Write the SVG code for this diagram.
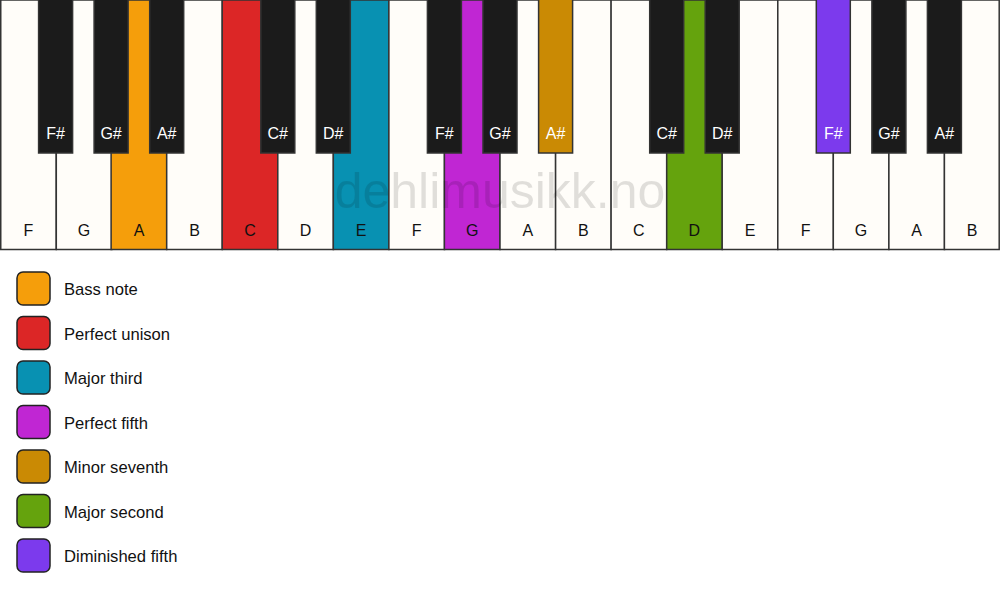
<svg xmlns="http://www.w3.org/2000/svg" width="1000" height="594" viewBox="0 0 1000 594">
<style>
.w{fill:#fffdf9;stroke:#333;stroke-width:1.5}
.b{fill:#1b1b1b;stroke:#333;stroke-width:1.5}
.wl{font-family:"Liberation Sans",Arial,sans-serif;font-size:16px;fill:#111;text-anchor:middle}
.bl{font-family:"Liberation Sans",Arial,sans-serif;font-size:16px;fill:#fff;text-anchor:middle}
.lg{stroke:#222;stroke-width:1.5}
.lt{font-family:"Liberation Sans",Arial,sans-serif;font-size:16.6px;fill:#111}
.wm{font-family:"Liberation Sans",Arial,sans-serif;font-size:50px;fill:#000;fill-opacity:0.12;text-anchor:middle}
</style>
<rect width="1000" height="594" fill="#fff"/>
<g id="white-keys">
<g id="wk-F1"><rect class="w" x="0.75" y="0" width="55.5" height="249.5"/><text class="wl" x="28.5" y="236">F</text></g>
<g id="wk-G1"><rect class="w" x="56.3" y="0" width="55.5" height="249.5"/><text class="wl" x="84" y="236">G</text></g>
<g id="wk-A1"><rect class="w" x="111.1" y="0" width="55.6" height="249.5" style="fill:#F59E0B"/><text class="wl" x="139" y="236">A</text></g>
<g id="wk-B1"><rect class="w" x="166.7" y="0" width="55.6" height="249.5"/><text class="wl" x="194.5" y="236">B</text></g>
<g id="wk-C1"><rect class="w" x="222.2" y="0" width="55.6" height="249.5" style="fill:#DC2626"/><text class="wl" x="250" y="236">C</text></g>
<g id="wk-D1"><rect class="w" x="277.8" y="0" width="55.6" height="249.5"/><text class="wl" x="305.5" y="236">D</text></g>
<g id="wk-E1"><rect class="w" x="333.3" y="0" width="55.6" height="249.5" style="fill:#0891B2"/><text class="wl" x="361" y="236">E</text></g>
<g id="wk-F2"><rect class="w" x="388.9" y="0" width="55.6" height="249.5"/><text class="wl" x="416.7" y="236">F</text></g>
<g id="wk-G2"><rect class="w" x="444.4" y="0" width="55.6" height="249.5" style="fill:#C026D3"/><text class="wl" x="472.2" y="236">G</text></g>
<g id="wk-A2"><rect class="w" x="500" y="0" width="55.6" height="249.5"/><text class="wl" x="527.8" y="236">A</text></g>
<g id="wk-B2"><rect class="w" x="555.6" y="0" width="55.6" height="249.5"/><text class="wl" x="583.3" y="236">B</text></g>
<g id="wk-C2"><rect class="w" x="611.1" y="0" width="55.6" height="249.5"/><text class="wl" x="638.9" y="236">C</text></g>
<g id="wk-D2"><rect class="w" x="666.7" y="0" width="55.6" height="249.5" style="fill:#65A30D"/><text class="wl" x="694.4" y="236">D</text></g>
<g id="wk-E2"><rect class="w" x="722.2" y="0" width="55.6" height="249.5"/><text class="wl" x="750" y="236">E</text></g>
<g id="wk-F3"><rect class="w" x="777.8" y="0" width="55.6" height="249.5"/><text class="wl" x="805.6" y="236">F</text></g>
<g id="wk-G3"><rect class="w" x="833.3" y="0" width="55.6" height="249.5"/><text class="wl" x="861.1" y="236">G</text></g>
<g id="wk-A3"><rect class="w" x="888.9" y="0" width="55.6" height="249.5"/><text class="wl" x="916.7" y="236">A</text></g>
<g id="wk-B3"><rect class="w" x="944.4" y="0" width="54.8" height="249.5"/><text class="wl" x="972.2" y="236">B</text></g>
</g>
<text id="watermark" class="wm" x="500" y="208">dehlimusikk.no</text>
<g id="black-keys">
<g id="bk-Fs1"><rect class="b" x="38.6" y="-1" width="34" height="154"/><text class="bl" x="55.6" y="139">F#</text></g>
<g id="bk-Gs1"><rect class="b" x="94.1" y="-1" width="34" height="154"/><text class="bl" x="111.1" y="139">G#</text></g>
<g id="bk-As1"><rect class="b" x="149.7" y="-1" width="34" height="154"/><text class="bl" x="166.7" y="139">A#</text></g>
<g id="bk-Cs1"><rect class="b" x="260.8" y="-1" width="34" height="154"/><text class="bl" x="277.8" y="139">C#</text></g>
<g id="bk-Ds1"><rect class="b" x="316.3" y="-1" width="34" height="154"/><text class="bl" x="333.3" y="139">D#</text></g>
<g id="bk-Fs2"><rect class="b" x="427.4" y="-1" width="34" height="154"/><text class="bl" x="444.4" y="139">F#</text></g>
<g id="bk-Gs2"><rect class="b" x="483" y="-1" width="34" height="154"/><text class="bl" x="500" y="139">G#</text></g>
<g id="bk-As2"><rect class="b" x="538.6" y="-1" width="34" height="154" style="fill:#CA8A04"/><text class="bl" x="555.6" y="139">A#</text></g>
<g id="bk-Cs2"><rect class="b" x="649.7" y="-1" width="34" height="154"/><text class="bl" x="666.7" y="139">C#</text></g>
<g id="bk-Ds2"><rect class="b" x="705.2" y="-1" width="34" height="154"/><text class="bl" x="722.2" y="139">D#</text></g>
<g id="bk-Fs3"><rect class="b" x="816.3" y="-1" width="34" height="154" style="fill:#7C3AED"/><text class="bl" x="833.3" y="139">F#</text></g>
<g id="bk-Gs3"><rect class="b" x="871.9" y="-1" width="34" height="154"/><text class="bl" x="888.9" y="139">G#</text></g>
<g id="bk-As3"><rect class="b" x="927.4" y="-1" width="34" height="154"/><text class="bl" x="944.4" y="139">A#</text></g>
</g>
<g id="legend">
<g id="lg-bass"><rect class="lg" x="17" y="272" width="33" height="33" rx="6" fill="#F59E0B"/><text class="lt" x="64" y="295">Bass note</text></g>
<g id="lg-unison"><rect class="lg" x="17" y="316.5" width="33" height="33" rx="6" fill="#DC2626"/><text class="lt" x="64" y="339.5">Perfect unison</text></g>
<g id="lg-third"><rect class="lg" x="17" y="361" width="33" height="33" rx="6" fill="#0891B2"/><text class="lt" x="64" y="384">Major third</text></g>
<g id="lg-fifth"><rect class="lg" x="17" y="405.5" width="33" height="33" rx="6" fill="#C026D3"/><text class="lt" x="64" y="428.5">Perfect fifth</text></g>
<g id="lg-seventh"><rect class="lg" x="17" y="450" width="33" height="33" rx="6" fill="#CA8A04"/><text class="lt" x="64" y="473">Minor seventh</text></g>
<g id="lg-second"><rect class="lg" x="17" y="494.5" width="33" height="33" rx="6" fill="#65A30D"/><text class="lt" x="64" y="517.5">Major second</text></g>
<g id="lg-dim"><rect class="lg" x="17" y="539" width="33" height="33" rx="6" fill="#7C3AED"/><text class="lt" x="64" y="562">Diminished fifth</text></g>
</g>
</svg>
